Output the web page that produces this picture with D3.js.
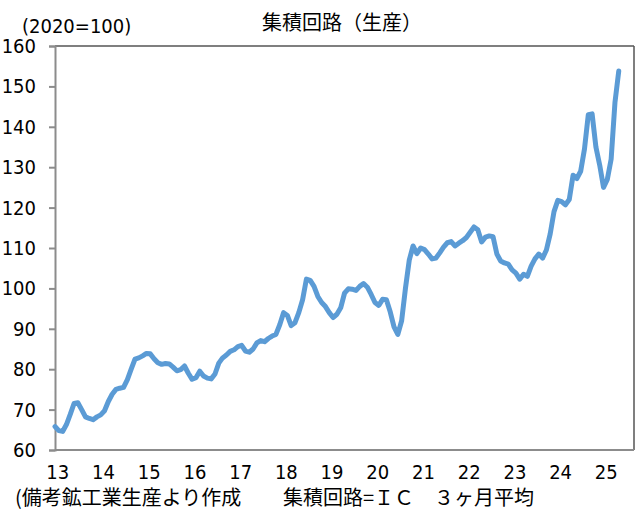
<!DOCTYPE html>
<html>
<head>
<meta charset="utf-8">
<script src="https://cdn.jsdelivr.net/npm/d3@7"></script>
<style>
    html, body { margin: 0; padding: 0; background: #fff; }
    .num { font-family: "Liberation Sans Narrow", "DejaVu Sans Condensed", "Noto Sans CJK JP", sans-serif; font-size: 20px; fill: #000; }
    .jp { font-family: "Noto Sans CJK JP", sans-serif; font-size: 20px; fill: #000; }
</style>
</head>
<body>
<div id="chart"></div>
<script>
// 集積回路 生産指数 (2020=100), 3ヶ月平均, monthly from Jan 2013
var startYear = 2013;
var icProduction = [
    65.8, 64.8, 64.6, 66.3, 68.8, 71.5, 71.7, 70.0, 68.2, 67.8, 67.5, 68.2,       // 13
    68.7, 69.7, 72.0, 73.8, 75.0, 75.3, 75.5, 77.4, 80.0, 82.5, 82.8, 83.3,       // 14
    83.9, 83.8, 82.6, 81.6, 81.2, 81.4, 81.3, 80.5, 79.6, 79.9, 80.8, 79.0,       // 15
    77.5, 77.9, 79.5, 78.3, 77.8, 77.6, 78.8, 81.5, 82.8, 83.5, 84.4, 84.8,       // 16
    85.6, 85.9, 84.5, 84.2, 85.0, 86.5, 87.1, 86.8, 87.6, 88.2, 88.6, 91.0,       // 17
    94.0, 93.3, 90.8, 91.5, 94.0, 97.2, 102.3, 102.0, 100.5, 98.0, 96.5, 95.5,    // 18
    94.0, 92.8, 93.6, 95.2, 98.8, 99.9, 99.8, 99.5, 100.5, 101.2, 100.3, 98.5,    // 19
    96.5, 95.8, 97.3, 97.2, 94.2, 90.5, 88.6, 92.0, 100.0, 107.0, 110.5, 108.6,   // 20
    110.0, 109.6, 108.5, 107.3, 107.5, 108.8, 110.2, 111.3, 111.6, 110.5, 111.2, 111.8, // 21
    112.6, 113.9, 115.2, 114.5, 111.5, 112.7, 113.0, 112.8, 108.5, 106.8, 106.3, 106.0, // 22
    104.6, 103.8, 102.3, 103.5, 103.0, 105.5, 107.3, 108.5, 107.5, 109.5, 113.5, 119.0, // 23
    121.8, 121.5, 120.7, 122.0, 128.0, 127.2, 129.0, 134.5, 143.0, 143.2, 135.0, 130.5, // 24
    125.0, 127.0, 132.0, 146.0, 153.8                                                    // 25
];
var yearLabels = ['13', '14', '15', '16', '17', '18', '19', '20', '21', '22', '23', '24', '25'];
var yTicks = [60, 70, 80, 90, 100, 110, 120, 130, 140, 150, 160];

var titleText = '集積回路（生産）';
var unitText = '(2020=100)';
var noteLeft = '(備考鉱工業生産より作成';
var noteRight = '集積回路=ＩＣ　３ヶ月平均';

var width = 643;
var height = 510;
var margin = {top: 46, right: 9, bottom: 60, left: 55};
var monthSpan = 152;   // axis runs a little past the last month

var svg = d3.select('#chart')
    .append('svg')
    .attr('width', width)
    .attr('height', height);

var x = d3.scaleLinear()
    .domain([0, monthSpan])
    .range([margin.left, width - margin.right]);

var y = d3.scaleLinear()
    .domain([60, 160])
    .range([height - margin.bottom, margin.top]);

// frame: dark top/right, gray left/bottom like the original
svg.append('line')
    .attr('x1', x(0)).attr('x2', x(monthSpan))
    .attr('y1', y(160)).attr('y2', y(160))
    .attr('stroke', '#555').attr('stroke-width', 1.5);
svg.append('line')
    .attr('x1', x(monthSpan)).attr('x2', x(monthSpan))
    .attr('y1', y(160)).attr('y2', y(60))
    .attr('stroke', '#555').attr('stroke-width', 1.5);

// y axis
var yAxis = d3.axisLeft(y)
    .tickValues(yTicks)
    .tickSize(6)
    .tickPadding(13);
var yg = svg.append('g')
    .attr('transform', 'translate(' + x(0) + ',0)')
    .call(yAxis);
yg.select('.domain').attr('stroke', '#8c8c8c').attr('stroke-width', 2);
yg.selectAll('.tick line').attr('stroke', '#8c8c8c').attr('stroke-width', 2);
yg.selectAll('.tick text')
    .attr('class', 'num')
    .attr('font-family', null)
    .attr('font-size', null)
    .attr('fill', null);

// x axis, labels only (a little right of each January)
var xAxis = d3.axisBottom(x)
    .tickValues(yearLabels.map(function (d, i) { return i * 12 + 0.6; }))
    .tickFormat(function (d, i) { return yearLabels[i]; })
    .tickSize(0)
    .tickPadding(15);
var xg = svg.append('g')
    .attr('transform', 'translate(0,' + y(60) + ')')
    .call(xAxis);
xg.select('.domain')
    .attr('d', 'M' + x(0) + ',0H' + x(monthSpan))
    .attr('stroke', '#8c8c8c').attr('stroke-width', 2);
xg.selectAll('.tick text')
    .attr('class', 'num')
    .attr('font-family', null)
    .attr('font-size', null)
    .attr('fill', null);

// the series
var line = d3.line()
    .x(function (d, i) { return x(i); })
    .y(function (d) { return y(d); });

svg.append('path')
    .datum(icProduction)
    .attr('d', line)
    .attr('fill', 'none')
    .attr('stroke', '#5b9bd5')
    .attr('stroke-width', 5)
    .attr('stroke-linejoin', 'round')
    .attr('stroke-linecap', 'round');

// texts
svg.append('text')
    .attr('class', 'jp')
    .attr('x', 342)
    .attr('y', 30)
    .attr('text-anchor', 'middle')
    .text(titleText);

svg.append('text')
    .attr('class', 'num')
    .attr('x', 22)
    .attr('y', 33)
    .text(unitText);

svg.append('text')
    .attr('class', 'jp')
    .attr('x', 15)
    .attr('y', 505)
    .text(noteLeft);

svg.append('text')
    .attr('class', 'jp')
    .attr('x', 283)
    .attr('y', 505)
    .text(noteRight);
</script>
</body>
</html>
